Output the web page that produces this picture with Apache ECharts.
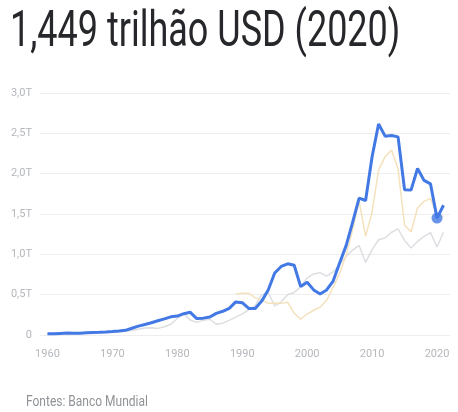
<!DOCTYPE html>
<html>
<head>
<meta charset="utf-8">
<script src="https://cdn.jsdelivr.net/npm/echarts@6/dist/echarts.min.js"></script>
<style>
  html, body { margin: 0; padding: 0; background: #fff; }
  #chart { width: 458px; height: 412px; }
</style>
</head>
<body>
<div id="chart"></div>
<script>
// GDP, current USD, trillions
const years = [];
for (let y = 1960; y <= 2021; y++) years.push(y);

const brazil = [
  0.017, 0.015, 0.020, 0.024, 0.021, 0.022, 0.028, 0.031, 0.033, 0.037,
  0.042, 0.049, 0.058, 0.084, 0.110, 0.130, 0.152, 0.176, 0.200, 0.225,
  0.235, 0.264, 0.281, 0.203, 0.209, 0.223, 0.268, 0.294, 0.330, 0.410,
  0.400, 0.330, 0.330, 0.420, 0.558, 0.769, 0.850, 0.883, 0.864, 0.600,
  0.655, 0.559, 0.509, 0.558, 0.669, 0.892, 1.108, 1.397, 1.696, 1.667,
  2.209, 2.616, 2.465, 2.473, 2.456, 1.802, 1.796, 2.064, 1.917, 1.873,
  1.449, 1.609
];

// second comparison series (starts 1989)
const compA = [
  null, null, null, null, null, null, null, null, null, null,
  null, null, null, null, null, null, null, null, null, null,
  null, null, null, null, null, null, null, null, null, 0.507,
  0.517, 0.518, 0.460, 0.435, 0.395, 0.396, 0.392, 0.405, 0.271, 0.196,
  0.260, 0.307, 0.345, 0.430, 0.591, 0.764, 0.990, 1.300, 1.661, 1.223,
  1.525, 2.046, 2.208, 2.293, 2.059, 1.363, 1.277, 1.574, 1.657, 1.693,
  1.483, 1.470
];

const compB = [
  0.013, 0.014, 0.015, 0.017, 0.020, 0.022, 0.024, 0.027, 0.029, 0.032,
  0.035, 0.039, 0.045, 0.055, 0.072, 0.088, 0.089, 0.082, 0.103, 0.134,
  0.205, 0.263, 0.184, 0.156, 0.184, 0.195, 0.134, 0.147, 0.181, 0.221,
  0.261, 0.313, 0.364, 0.500, 0.527, 0.360, 0.411, 0.500, 0.526, 0.600,
  0.708, 0.757, 0.772, 0.729, 0.782, 0.877, 0.975, 1.053, 1.110, 0.900,
  1.058, 1.181, 1.202, 1.274, 1.315, 1.172, 1.078, 1.159, 1.223, 1.269,
  1.091, 1.273
];

const yTicks = [0, 0.5, 1.0, 1.5, 2.0, 2.5, 3.0];
const yTickLabels = ['0', '0,5T', '1,0T', '1,5T', '2,0T', '2,5T', '3,0T'];
const xTicks = [1960, 1970, 1980, 1990, 2000, 2010, 2020];

const highlightYear = 2020;
const titleText = '1,449 trilhão USD (2020)';
const sourceText = 'Fontes: Banco Mundial';

const pairs = arr => years.map((y, i) => [y, arr[i]]);
const hlIndex = years.indexOf(highlightYear);

const chart = echarts.init(document.getElementById('chart'), null, { renderer: 'canvas' });
chart.setOption({
  animation: false,
  backgroundColor: '#ffffff',
  grid: { left: 40, right: 8, top: 93, bottom: 77, containLabel: false },
  xAxis: {
    type: 'value',
    min: 1958.85,
    max: 2022,
    axisLine: { show: false },
    axisTick: { show: false },
    splitLine: { show: false },
    axisLabel: {
      customValues: xTicks,
      color: '#b4b7bb',
      fontFamily: 'Roboto',
      fontSize: 11,
      margin: 14,
      formatter: v => String(v)
    }
  },
  yAxis: {
    type: 'value',
    min: 0,
    max: 3,
    interval: 0.5,
    axisLine: { show: false },
    axisTick: { show: false },
    splitLine: { lineStyle: { color: '#eeeeee', width: 1 } },
    axisLabel: {
      color: '#b4b7bb',
      fontFamily: 'Roboto',
      fontSize: 11,
      margin: 8,
      formatter: v => {
        const k = yTicks.findIndex(t => Math.abs(t - v) < 1e-6);
        return k >= 0 ? yTickLabels[k] : '';
      }
    }
  },
  series: [
    {
      type: 'line',
      data: pairs(compB),
      showSymbol: false,
      connectNulls: false,
      lineStyle: { color: '#dcdee2', width: 1.5 },
      z: 1
    },
    {
      type: 'line',
      data: pairs(compA),
      showSymbol: false,
      connectNulls: false,
      lineStyle: { color: '#f5e2bd', width: 1.5 },
      z: 2
    },
    {
      type: 'line',
      data: pairs(brazil),
      showSymbol: false,
      lineStyle: { color: '#4279e4', width: 3 },
      z: 3
    },
    {
      type: 'scatter',
      data: [[highlightYear, brazil[hlIndex]]],
      symbolSize: 11,
      itemStyle: { color: '#4279e4' },
      z: 4
    }
  ],
  graphic: [
    {
      type: 'text',
      x: 10,
      y: 9,
      scaleY: 1.38,
      style: {
        text: titleText,
        font: '36px Roboto',
        fill: '#26272a',
        textVerticalAlign: 'top'
      }
    },
    {
      type: 'text',
      x: 26,
      y: 395,
      scaleY: 1.2,
      style: {
        text: sourceText,
        font: '12px Roboto',
        fill: '#8f9296',
        textVerticalAlign: 'top'
      }
    }
  ]
});
</script>
</body>
</html>
